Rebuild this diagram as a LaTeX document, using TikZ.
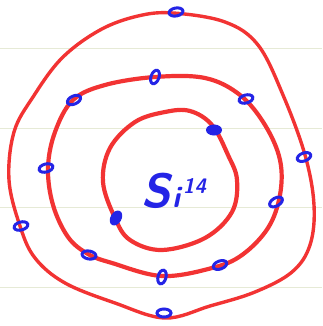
\documentclass[tikz,border=0pt]{standalone}
\usetikzlibrary{shapes.geometric}
\definecolor{orb}{HTML}{F23333}
\definecolor{elec}{HTML}{2424E6}
\definecolor{rule}{HTML}{E6EAD6}
\tikzset{
  orbit/.style={draw=orb, line width=3.6pt, line join=round},
  electron/.style={ellipse, draw=elec, line width=3pt, minimum width=14pt, minimum height=8pt, inner sep=0pt},
  filledelectron/.style={ellipse, draw=elec, fill=elec, line width=1pt, minimum width=15pt, minimum height=10pt, inner sep=0pt},
  ruleline/.style={draw=rule, line width=0.8pt}
}
\begin{document}
\begin{tikzpicture}[x=1pt,y=-1pt]
\useasboundingbox (0,0) rectangle (322,326);
\fill[white] (0,0) rectangle (322,326);
\foreach \yy in {48,128,207,287} \draw[ruleline] (0,\yy) -- (322,\yy);
% outer orbit
\draw[orbit, line width=3.4pt] plot[smooth cycle, tension=0.6] coordinates {
 (173,13) (225,22) (258,45) (283,95) (305,155) (314,205) (310,245) (292,272)
 (255,292) (210,306) (165,318) (115,303) (65,283) (35,258) (20,226) (9,180)
 (14,132) (33,97) (62,58) (100,30) (138,16)};
% middle orbit
\draw[orbit, line width=4.2pt] plot[smooth cycle, tension=0.6] coordinates {
 (155,77) (205,78) (240,95) (265,125) (280,160) (280,195) (268,228) (242,255)
 (212,268) (162,276) (112,263) (88,254) (68,237) (53,205) (48,168) (55,132)
 (73,100) (105,85)};
% inner orbit
\draw[orbit, line width=4.2pt] plot[smooth cycle, tension=0.6] coordinates {
 (190,111) (212,125) (228,155) (237,180) (232,212) (205,238) (162,250) (130,240)
 (115,218) (103,182) (110,148) (135,122) (165,112)};
% electrons
\node[electron, rotate=10] (o1) at (176,12) {};
\node[electron, rotate=20] (o2) at (304,157) {};
\node[electron, rotate=0] (o3) at (164,313) {};
\node[electron, rotate=15] (o4) at (21,226) {};
\node[electron, rotate=70] (m1) at (155,77) {};
\node[electron, rotate=15] (m2) at (246,99) {};
\node[electron, rotate=30] (m3) at (276,202) {};
\node[electron, rotate=20] (m4) at (220,265) {};
\node[electron, rotate=75] (m5) at (162,277) {};
\node[electron, rotate=-10] (m6) at (89,255) {};
\node[electron, rotate=15] (m7) at (46,168) {};
\node[electron, rotate=25] (m8) at (74,100) {};
\node[filledelectron, rotate=0] (i1) at (214,130) {};
\node[filledelectron, rotate=60] (i2) at (116,218) {};
% label
\node[text=elec, font=\sffamily\bfseries\slshape, inner sep=0pt] (lbl) at (174,191)
  {{\fontsize{48}{48}\selectfont S}\kern1pt{\fontsize{30}{30}\selectfont i}\kern3pt\raisebox{14pt}{\fontsize{21}{21}\selectfont 14}};
\end{tikzpicture}
\end{document}
